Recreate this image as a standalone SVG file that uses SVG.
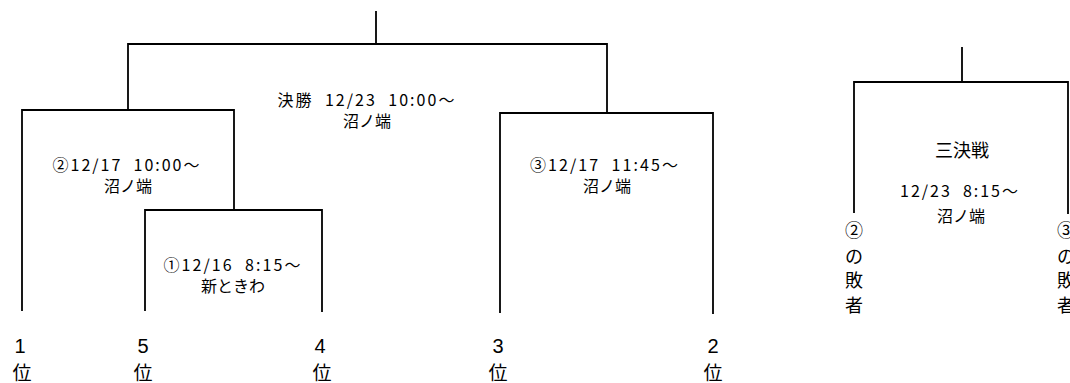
<svg xmlns="http://www.w3.org/2000/svg" width="1070" height="383" viewBox="0 0 1070 383">
<style>
.ln{fill:none;stroke:#000;stroke-width:1.8;stroke-linecap:square}
.t{font-family:"Noto Sans CJK JP","DejaVu Sans",sans-serif;font-size:16px;fill:#000;text-anchor:middle}
.r{font-family:"Liberation Sans","Noto Sans CJK JP",sans-serif;font-size:20px;fill:#000;text-anchor:middle}
.k{font-family:"Noto Sans CJK JP",sans-serif;font-size:19px;fill:#000;text-anchor:middle}
.v{font-family:"Noto Sans CJK JP",sans-serif;font-size:18px;fill:#000;text-anchor:middle}
</style>
<rect width="1070" height="383" fill="#fff"/>
<g id="connectors">
<path class="ln" d="M376,12 V44 M128,110 V44 H607 V113"/>
<path class="ln" d="M22,310 V110 H234 V210"/>
<path class="ln" d="M145,310 V210 H322 V311"/>
<path class="ln" d="M500,312 V113 H713 V313"/>
<path class="ln" d="M962,48 V82 M854,212 V82 H1068 V213"/>
</g>
<g id="final">
<text class="t" x="366" y="106" xml:space="preserve" textLength="177" lengthAdjust="spacing">決勝  12/23  10:00～</text>
<text class="t" x="367" y="127">沼ノ端</text>
</g>
<g id="match2">
<text class="t" x="126" y="171" xml:space="preserve" textLength="147" lengthAdjust="spacing">②12/17  10:00～</text>
<text class="t" x="128" y="192">沼ノ端</text>
</g>
<g id="match1">
<text class="t" x="232" y="271" xml:space="preserve" textLength="137" lengthAdjust="spacing">①12/16  8:15～</text>
<text class="t" x="233" y="292">新ときわ</text>
</g>
<g id="match3">
<text class="t" x="604" y="171" xml:space="preserve" textLength="148" lengthAdjust="spacing">③12/17  11:45～</text>
<text class="t" x="607" y="192">沼ノ端</text>
</g>
<g id="third">
<text class="t" x="962" y="157" style="font-size:18px">三決戦</text>
<text class="t" x="959" y="197" xml:space="preserve" textLength="118" lengthAdjust="spacing">12/23  8:15～</text>
<text class="t" x="961" y="222">沼ノ端</text>
</g>
<g id="rank1"><text class="r" x="20" y="353">1</text><text class="k" x="22" y="380">位</text></g>
<g id="rank5"><text class="r" x="143" y="353">5</text><text class="k" x="143" y="380">位</text></g>
<g id="rank4"><text class="r" x="320" y="353">4</text><text class="k" x="322" y="380">位</text></g>
<g id="rank3"><text class="r" x="498" y="353">3</text><text class="k" x="498" y="380">位</text></g>
<g id="rank2"><text class="r" x="713" y="353">2</text><text class="k" x="713" y="380">位</text></g>
<g id="loser2">
<text class="v" x="854" y="237">②</text>
<text class="v" x="854" y="263">の</text>
<text class="v" x="854" y="287">敗</text>
<text class="v" x="854" y="312">者</text>
</g>
<g id="loser3">
<text class="v" x="1066" y="237">③</text>
<text class="v" x="1066" y="263">の</text>
<text class="v" x="1066" y="287">敗</text>
<text class="v" x="1066" y="312">者</text>
</g>
</svg>
